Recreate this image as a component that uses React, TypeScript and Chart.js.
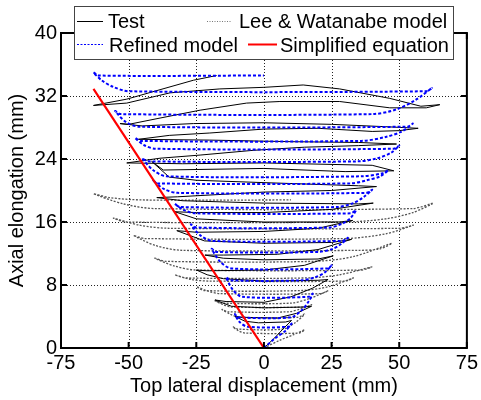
import React, { useEffect, useRef } from "react";
import { Chart, registerables } from "chart.js";

Chart.register(...registerables);

// ---- data ----
const xTicks = [-75, -50, -25, 0, 25, 50, 75];
const yTicks = [0, 8, 16, 24, 32, 40];
const seriesLabels = ["Test", "Lee & Watanabe model", "Refined model", "Simplified equation"];

// Test (black, solid) — one continuous hysteresis path
const testPath: [number, number][] = [
  [0, 0], [4, 1.3], [7, 2.4], [10.2, 3.5],
  [8, 3.3], [-2, 3.2], [-7, 3.4], [-10.7, 4.0],
  [-8, 3.9], [5, 3.8], [12, 4.4], [17.6, 5.3],
  [14, 5.2], [0, 5.1], [-12, 5.3], [-18.1, 6.1],
  [-14, 5.9], [0, 5.8], [10, 6.5], [18, 7.6], [23.7, 8.7],
  [20, 8.6], [0, 8.5], [-15, 8.8], [-21, 9.3], [-24.9, 9.9],
  [-21, 9.8], [0, 9.9], [15, 10.5], [25.6, 11.7],
  [20, 11.3], [0, 11.2], [-15, 11.4], [-21.8, 11.8],
  [-15, 11.8], [5, 11.9], [20, 12.5], [32.4, 13.8],
  [25, 13.4], [0, 13.3], [-22, 13.6], [-32.2, 14.9],
  [-25, 14.7], [0, 14.8], [20, 15.2], [32.8, 16.2],
  [28, 16.0], [0, 16.0], [-25, 16.4], [-32.9, 17.3],
  [-25, 17.2], [0, 17.2], [25, 17.6], [40.4, 18.4],
  [35, 18.3], [0, 18.4], [-30, 18.7], [-39.6, 19.1],
  [-32, 19.2], [0, 19.8], [25, 20.0], [41.6, 20.5],
  [35, 20.6], [0, 21.0], [-25, 21.3], [-35, 21.7], [-41.5, 23.7],
  [-37.2, 22.6], [0, 22.8], [30, 22.4], [48, 22.5],
  [40, 23.2], [0, 23.5], [-30, 23.4], [-50.7, 23.5],
  [-38.4, 24.1], [-23.6, 24.5], [-4, 25.1], [15, 25.5], [35, 25.7], [49, 25.9],
  [35, 26.1], [10, 26.2], [-20, 26.4], [-46.4, 26.5],
  [-35, 27.0], [-20, 27.3], [0, 27.8], [20, 27.9], [40, 27.5], [50, 27.6], [57, 27.9],
  [45, 28.1], [25, 28.4], [0, 28.6], [-26, 28.5], [-45, 28.2], [-53.2, 28.5],
  [-50, 28.4], [-38.4, 29.2], [-23.6, 30.2], [-6.4, 31.1], [5.9, 31.3], [28, 31.3], [46.5, 30.5], [60, 30.5], [65, 30.9],
  [58, 30.7], [46.5, 31.7], [28, 32.9], [14.5, 33.4], [0, 33.1], [-16.3, 32.9], [-34.7, 32.4], [-50.7, 31.1], [-63, 30.8],
  [-50.7, 31.6], [-38.4, 32.8], [-26.1, 34.0], [-17.5, 34.6],
];

// Lee & Watanabe model (grey, dotted)
const leeWatanabePath: [number, number][] = [
  [0, 0], [6, 1.0], [11, 1.7], [15, 2.3],
  [13, 1.9], [-7, 1.9], [-9.5, 2.2], [-11.5, 2.7],
  [-9.5, 2.4], [7, 2.4], [11.5, 3.2], [15, 4.3],
  [12.5, 3.9], [-9, 3.9], [-12.5, 4.3], [-15.5, 4.9],
  [-13, 4.6], [9, 4.6], [14, 5.0], [17.6, 5.5],
  [15, 5.2], [-12, 5.2], [-15, 5.5], [-18.1, 6.0],
  [-15.5, 5.7], [10, 5.7], [17, 6.3], [23.8, 7.3],
  [21, 6.9], [-16, 6.9], [-20.5, 7.2], [-24.9, 7.8],
  [-22, 7.3], [14, 7.3], [24, 7.8], [33, 8.9],
  [30, 8.5], [-20, 8.5], [-27, 8.7], [-32.9, 9.3],
  [-29, 8.9], [16, 8.9], [28, 9.3], [39.8, 10.3],
  [36, 9.9], [-25, 9.9], [-33, 10.4], [-40.3, 11.4],
  [-36, 11.0], [18, 11.0], [33, 11.6], [47.2, 13.3],
  [43, 12.6], [35, 12.4], [-30, 12.4], [-40, 13.0], [-48.2, 14.3],
  [-44, 13.9], [30, 13.9], [45, 14.5], [55.2, 15.6],
  [50, 15.2], [-35, 15.2], [-46, 15.6], [-55.6, 16.5],
  [-51, 16.0], [30, 16.0], [45, 16.4], [55, 17.2], [62.6, 18.4],
  [55, 17.7], [-40, 17.7], [-52, 18.3], [-63, 19.6],
  [-57, 19.1], [-45, 18.8], [10, 18.8],
];

// Refined model (blue, dotted)
const refinedPath: [number, number][] = [
  [0, 0], [4, 1.2], [8, 2.2], [10.2, 3.1],
  [9, 2.7], [-6, 2.7], [-9, 3.3], [-10.7, 4.3],
  [-9.5, 3.9], [10, 3.9], [14, 4.8], [16.5, 5.9], [18, 6.9],
  [16.5, 6.5], [-8, 6.5], [-11.5, 7.4], [-14, 9.0],
  [-12.5, 8.6], [14, 8.6], [19, 9.0], [22.5, 9.6], [25, 10.5],
  [23.5, 10.1], [-12, 10.1], [-16, 10.9], [-19.3, 12.6],
  [-17.5, 12.2], [20, 12.2], [25.5, 12.6], [28.5, 13.2], [31, 14.0],
  [29, 13.6], [-19, 13.6], [-23.5, 14.3], [-27, 15.7],
  [-25, 15.3], [24, 15.3], [29, 15.8], [32, 16.5], [34, 17.5],
  [32, 17.1], [-25, 17.1], [-29.5, 17.5], [-32.9, 18.3],
  [-31, 17.9], [27, 17.9], [33, 18.4], [37, 19.2], [40, 20.1],
  [38, 19.7], [-32, 19.7], [-37, 20.2], [-41, 21.3],
  [-39, 20.9], [32, 20.9], [38, 21.3], [43, 21.8], [46, 22.6],
  [44, 22.2], [36, 21.8], [-36, 21.8], [-41, 22.6], [-45, 24.1],
  [-43, 23.7], [35, 23.7], [42, 24.1], [47, 24.8], [50, 25.7],
  [48, 25.3], [-40, 25.3], [-44.5, 25.8], [-47.7, 26.7],
  [-45.5, 26.3], [36, 26.3], [45, 26.8], [51, 27.5], [55, 28.5],
  [53, 28.1], [-46, 28.1], [-51, 28.7], [-55, 30.1],
  [-53, 29.7], [40, 29.7], [49, 30.3], [56, 31.5], [62, 33.0],
  [60, 32.6], [-50, 32.6], [-56, 33.2], [-60, 34.0], [-63, 35.0],
  [-61, 34.6], [0, 34.6],
];

// Simplified equation (red line)
const simplifiedX = [0, -63];
const simplifiedY = [0, 32.9];

const FONT = "'Liberation Sans', Arial, Helvetica, sans-serif";

const toPts = (p: [number, number][]) => p.map(([x, y]) => ({ x, y }));

const framePlugin = {
  id: "matlabFrame",
  beforeDatasetsDraw(chart: any) {
    const { ctx, chartArea: a, scales } = chart;
    ctx.save();
    ctx.strokeStyle = "#222";
    ctx.lineWidth = 1;
    ctx.setLineDash([1, 2]);
    xTicks.forEach((v) => {
      const px = Math.round(scales.x.getPixelForValue(v)) + 0.5;
      if (v === xTicks[0] || v === xTicks[xTicks.length - 1]) return;
      ctx.beginPath();
      ctx.moveTo(px, a.top);
      ctx.lineTo(px, a.bottom);
      ctx.stroke();
    });
    yTicks.forEach((v) => {
      const py = Math.round(scales.y.getPixelForValue(v)) + 0.5;
      if (v === yTicks[0] || v === yTicks[yTicks.length - 1]) return;
      ctx.beginPath();
      ctx.moveTo(a.left, py);
      ctx.lineTo(a.right, py);
      ctx.stroke();
    });
    ctx.restore();
  },
  afterDatasetsDraw(chart: any) {
    const { ctx, chartArea: a, scales } = chart;
    ctx.save();
    ctx.setLineDash([]);
    ctx.strokeStyle = "#000";
    ctx.lineWidth = 2;
    ctx.strokeRect(a.left, a.top, a.right - a.left, a.bottom - a.top);
    const tl = 6;
    ctx.beginPath();
    xTicks.forEach((v) => {
      const px = scales.x.getPixelForValue(v);
      ctx.moveTo(px, a.bottom);
      ctx.lineTo(px, a.bottom - tl);
      ctx.moveTo(px, a.top);
      ctx.lineTo(px, a.top + tl);
    });
    yTicks.forEach((v) => {
      const py = scales.y.getPixelForValue(v);
      ctx.moveTo(a.left, py);
      ctx.lineTo(a.left + tl, py);
      ctx.moveTo(a.right, py);
      ctx.lineTo(a.right - tl, py);
    });
    ctx.stroke();

    // legend
    const lx = 74, ly = 6, lw = 379, lh = 53;
    ctx.fillStyle = "#fff";
    ctx.fillRect(lx, ly, lw, lh);
    ctx.strokeStyle = "#444";
    ctx.lineWidth = 1;
    ctx.strokeRect(lx + 0.5, ly + 0.5, lw, lh);

    const entries = [
      { label: seriesLabels[0], x0: 77, x1: 103, tx: 108, y: 21, base: 28, color: "#000", w: 1, dash: [] as number[] },
      { label: seriesLabels[1], x0: 207, x1: 232, tx: 239, y: 21, base: 28, color: "#777", w: 1, dash: [1, 1.5] },
      { label: seriesLabels[2], x0: 77, x1: 103, tx: 109, y: 44, base: 51.5, color: "#0000ff", w: 1, dash: [2, 1.5] },
      { label: seriesLabels[3], x0: 248, x1: 277, tx: 280, y: 44, base: 51.5, color: "#ff0000", w: 2, dash: [] as number[] },
    ];
    entries.forEach((e) => {
      ctx.beginPath();
      ctx.strokeStyle = e.color;
      ctx.lineWidth = e.w;
      ctx.setLineDash(e.dash);
      ctx.moveTo(e.x0, e.y + 0.5);
      ctx.lineTo(e.x1, e.y + 0.5);
      ctx.stroke();
      ctx.setLineDash([]);
      ctx.fillStyle = "#000";
      ctx.font = `20px ${FONT}`;
      ctx.textAlign = "left";
      ctx.textBaseline = "alphabetic";
      ctx.fillText(e.label, e.tx, e.base);
    });
    ctx.restore();
  },
};

export default function App() {
  const ref = useRef<HTMLCanvasElement | null>(null);

  useEffect(() => {
    if (!ref.current) return;
    const line = (data: any, color: string, width: number, dash: number[], tension: number, order: number) => ({
      data,
      showLine: true,
      pointRadius: 0,
      borderColor: color,
      backgroundColor: color,
      borderWidth: width,
      borderDash: dash,
      tension,
      fill: false,
      order,
    });
    const chart = new Chart(ref.current, {
      type: "scatter",
      data: {
        datasets: [
          { label: seriesLabels[3], ...line(simplifiedX.map((x, i) => ({ x, y: simplifiedY[i] })), "#ff0000", 2.2, [], 0, 0) },
          { label: seriesLabels[2], ...line(toPts(refinedPath), "#0000ff", 2, [3, 2], 0.3, 1) },
          { label: seriesLabels[0], ...line(toPts(testPath), "#000000", 1, [], 0, 2) },
          { label: seriesLabels[1], ...line(toPts(leeWatanabePath), "#555555", 1.3, [2, 1.5], 0.3, 3) },
        ],
      } as any,
      options: {
        responsive: false,
        animation: false,
        devicePixelRatio: 1,
        layout: { padding: { top: 33, right: 14, left: 0, bottom: 0 } },
        plugins: { legend: { display: false }, tooltip: { enabled: false } },
        scales: {
          x: {
            type: "linear",
            min: -75,
            max: 75,
            afterBuildTicks: (s: any) => {
              s.ticks = xTicks.map((v) => ({ value: v }));
            },
            afterFit: (s: any) => {
              s.height = 52;
            },
            grid: { display: false, drawTicks: false },
            border: { display: false },
            ticks: { color: "#000", font: { family: FONT, size: 20 }, padding: 3, maxRotation: 0, autoSkip: false },
            title: {
              display: true,
              text: "Top lateral displacement (mm)",
              color: "#000",
              font: { family: FONT, size: 20 },
              padding: { top: 0, bottom: 2 },
            },
          },
          y: {
            type: "linear",
            min: 0,
            max: 40,
            afterBuildTicks: (s: any) => {
              s.ticks = yTicks.map((v) => ({ value: v }));
            },
            afterFit: (s: any) => {
              s.width = 61;
            },
            grid: { display: false, drawTicks: false },
            border: { display: false },
            ticks: { color: "#000", font: { family: FONT, size: 20 }, padding: 4, autoSkip: false },
            title: {
              display: true,
              text: "Axial elongation (mm)",
              color: "#000",
              font: { family: FONT, size: 20 },
              padding: { top: 5, bottom: 0 },
            },
          },
        },
      } as any,
      plugins: [framePlugin],
    });
    return () => chart.destroy();
  }, []);

  return (
    <div style={{ position: "fixed", left: 0, top: 0, width: 481, height: 400, background: "#fff" }}>
      <canvas ref={ref} width={481} height={400} style={{ width: 481, height: 400, display: "block" }} />
    </div>
  );
}
